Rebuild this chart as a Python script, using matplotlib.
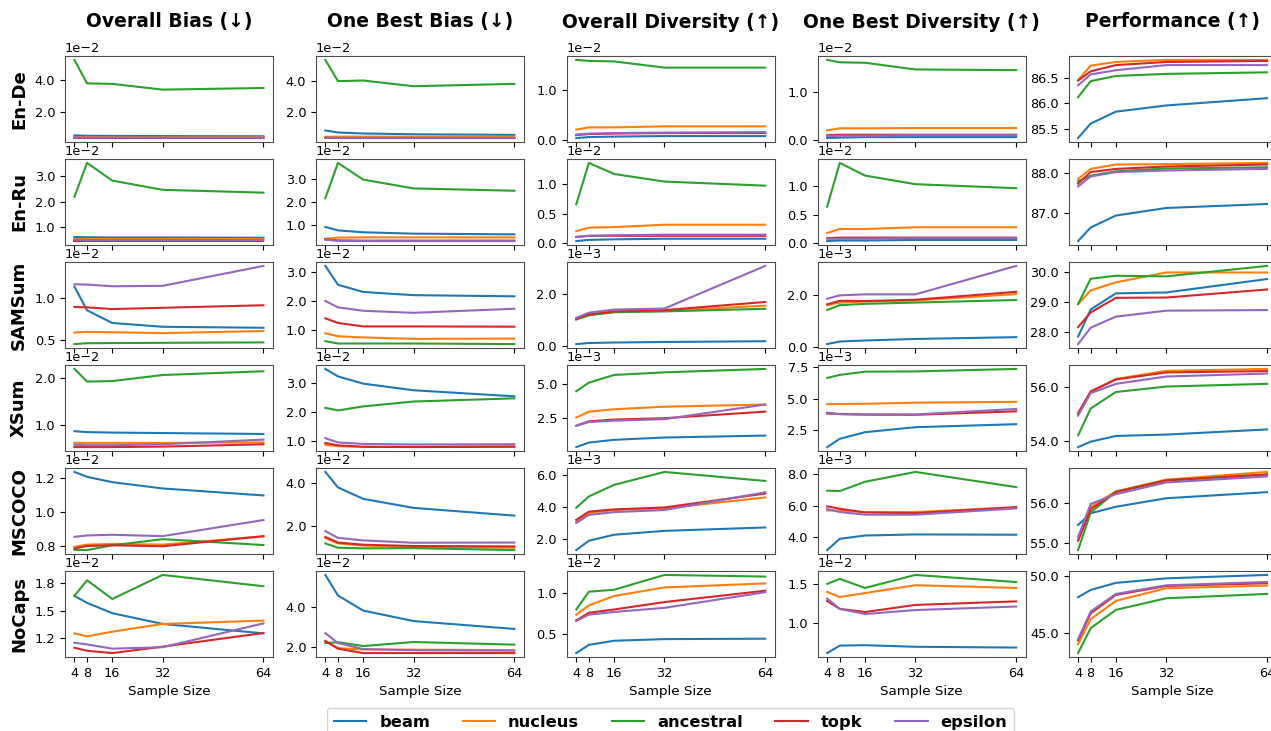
import numpy as np
import matplotlib
matplotlib.use("Agg")
import matplotlib.pyplot as plt
from matplotlib.ticker import ScalarFormatter

SAMPLE_SIZES = [4, 8, 16, 32, 64]
METHODS = ["beam", "nucleus", "ancestral", "topk", "epsilon"]
DATASETS = ["En-De", "En-Ru", "SAMSum", "XSum", "MSCOCO", "NoCaps"]
METRICS = ["Overall Bias (↓)", "One Best Bias (↓)", "Overall Diversity (↑)",
           "One Best Diversity (↑)", "Performance (↑)"]

# each array: one row per method (beam, nucleus, ancestral, topk, epsilon)
ENDE_OVERALL_BIAS = np.array([
    [0.60, 0.58, 0.57, 0.56, 0.55],
    [0.50, 0.50, 0.49, 0.49, 0.49],
    [5.20, 3.77, 3.74, 3.39, 3.49],
    [0.45, 0.44, 0.44, 0.44, 0.44],
    [0.48, 0.47, 0.47, 0.46, 0.46]]) * 1e-2
ENDE_ONE_BEST_BIAS = np.array([
    [0.85, 0.72, 0.66, 0.61, 0.57],
    [0.45, 0.46, 0.46, 0.46, 0.46],
    [5.30, 3.96, 4.00, 3.64, 3.79],
    [0.38, 0.37, 0.37, 0.37, 0.37],
    [0.40, 0.38, 0.38, 0.38, 0.38]]) * 1e-2
ENDE_OVERALL_DIV = np.array([
    [0.03, 0.05, 0.06, 0.07, 0.07],
    [0.20, 0.245, 0.245, 0.265, 0.265],
    [1.60, 1.58, 1.57, 1.445, 1.445],
    [0.09, 0.11, 0.12, 0.13, 0.13],
    [0.10, 0.12, 0.13, 0.14, 0.15]]) * 1e-2
ENDE_ONE_BEST_DIV = np.array([
    [0.03, 0.04, 0.05, 0.05, 0.05],
    [0.19, 0.235, 0.235, 0.24, 0.24],
    [1.67, 1.62, 1.61, 1.47, 1.455],
    [0.09, 0.10, 0.10, 0.10, 0.10],
    [0.07, 0.08, 0.08, 0.09, 0.09]]) * 1e-2
ENDE_PERF = np.array([
    [85.33, 85.61, 85.84, 85.96, 86.10],
    [86.45, 86.73, 86.80, 86.84, 86.84],
    [86.12, 86.43, 86.53, 86.57, 86.60],
    [86.44, 86.62, 86.74, 86.80, 86.82],
    [86.35, 86.56, 86.64, 86.74, 86.74]])

ENRU_OVERALL_BIAS = np.array([
    [0.63, 0.62, 0.61, 0.61, 0.60],
    [0.55, 0.55, 0.55, 0.55, 0.55],
    [2.20, 3.52, 2.83, 2.47, 2.36],
    [0.47, 0.47, 0.47, 0.47, 0.47],
    [0.52, 0.51, 0.51, 0.51, 0.51]]) * 1e-2
ENRU_ONE_BEST_BIAS = np.array([
    [0.93, 0.78, 0.70, 0.64, 0.61],
    [0.42, 0.47, 0.48, 0.48, 0.48],
    [2.17, 3.69, 2.97, 2.59, 2.49],
    [0.40, 0.35, 0.34, 0.34, 0.34],
    [0.38, 0.33, 0.32, 0.32, 0.32]]) * 1e-2
ENRU_OVERALL_DIV = np.array([
    [0.03, 0.05, 0.06, 0.07, 0.07],
    [0.20, 0.26, 0.27, 0.31, 0.31],
    [0.66, 1.37, 1.18, 1.05, 0.98],
    [0.10, 0.12, 0.12, 0.12, 0.12],
    [0.10, 0.12, 0.13, 0.14, 0.14]]) * 1e-2
ENRU_ONE_BEST_DIV = np.array([
    [0.04, 0.05, 0.05, 0.06, 0.06],
    [0.18, 0.25, 0.25, 0.28, 0.28],
    [0.64, 1.40, 1.18, 1.03, 0.96],
    [0.09, 0.10, 0.10, 0.10, 0.10],
    [0.08, 0.08, 0.08, 0.09, 0.09]]) * 1e-2
ENRU_PERF = np.array([
    [86.29, 86.63, 86.93, 87.12, 87.22],
    [87.85, 88.10, 88.21, 88.22, 88.25],
    [87.79, 87.93, 88.04, 88.11, 88.14],
    [87.73, 88.02, 88.10, 88.16, 88.21],
    [87.66, 87.91, 88.02, 88.06, 88.10]])

SAMSUM_OVERALL_BIAS = np.array([
    [1.13, 0.85, 0.70, 0.655, 0.643],
    [0.587, 0.595, 0.59, 0.58, 0.605],
    [0.45, 0.46, 0.462, 0.465, 0.47],
    [0.89, 0.885, 0.865, 0.88, 0.91],
    [1.158, 1.155, 1.135, 1.14, 1.376]]) * 1e-2
SAMSUM_ONE_BEST_BIAS = np.array([
    [3.22, 2.57, 2.32, 2.21, 2.17],
    [0.89, 0.79, 0.75, 0.70, 0.71],
    [0.62, 0.54, 0.54, 0.54, 0.52],
    [1.41, 1.25, 1.13, 1.13, 1.12],
    [2.01, 1.79, 1.67, 1.60, 1.74]]) * 1e-2
SAMSUM_OVERALL_DIV = np.array([
    [0.08, 0.12, 0.14, 0.16, 0.19],
    [1.03, 1.20, 1.30, 1.35, 1.55],
    [1.02, 1.18, 1.30, 1.33, 1.43],
    [1.05, 1.22, 1.33, 1.38, 1.69],
    [1.08, 1.28, 1.40, 1.44, 3.07]]) * 1e-3
SAMSUM_ONE_BEST_DIV = np.array([
    [0.10, 0.20, 0.24, 0.30, 0.37],
    [1.62, 1.72, 1.76, 1.80, 2.05],
    [1.43, 1.62, 1.67, 1.72, 1.82],
    [1.65, 1.79, 1.78, 1.83, 2.14],
    [1.87, 2.00, 2.04, 2.04, 3.15]]) * 1e-3
SAMSUM_PERF = np.array([
    [27.85, 28.76, 29.30, 29.33, 29.78],
    [28.94, 29.40, 29.67, 30.00, 30.00],
    [28.94, 29.79, 29.89, 29.87, 30.22],
    [28.17, 28.66, 29.15, 29.16, 29.43],
    [27.60, 28.15, 28.52, 28.72, 28.74]])

XSUM_OVERALL_BIAS = np.array([
    [0.87, 0.85, 0.84, 0.83, 0.81],
    [0.62, 0.62, 0.62, 0.62, 0.63],
    [2.20, 1.93, 1.94, 2.07, 2.15],
    [0.53, 0.53, 0.53, 0.54, 0.59],
    [0.58, 0.57, 0.57, 0.59, 0.69]]) * 1e-2
XSUM_ONE_BEST_BIAS = np.array([
    [3.50, 3.24, 2.99, 2.76, 2.55],
    [0.87, 0.82, 0.80, 0.80, 0.82],
    [2.15, 2.06, 2.20, 2.37, 2.48],
    [0.93, 0.85, 0.80, 0.79, 0.80],
    [1.10, 0.95, 0.90, 0.88, 0.89]]) * 1e-2
XSUM_OVERALL_DIV = np.array([
    [0.39, 0.72, 0.92, 1.09, 1.23],
    [2.55, 2.98, 3.15, 3.34, 3.50],
    [4.47, 5.10, 5.66, 5.85, 6.10],
    [1.95, 2.27, 2.40, 2.50, 2.98],
    [1.95, 2.22, 2.32, 2.43, 3.50]]) * 1e-3
XSUM_ONE_BEST_DIV = np.array([
    [1.12, 1.78, 2.31, 2.71, 2.95],
    [4.55, 4.57, 4.58, 4.67, 4.74],
    [6.65, 6.89, 7.15, 7.17, 7.37],
    [3.80, 3.77, 3.72, 3.70, 3.98],
    [3.88, 3.75, 3.72, 3.73, 4.17]]) * 1e-3
XSUM_PERF = np.array([
    [53.79, 53.99, 54.20, 54.25, 54.44],
    [55.00, 55.82, 56.30, 56.60, 56.67],
    [54.22, 55.21, 55.82, 56.02, 56.12],
    [55.04, 55.84, 56.28, 56.54, 56.59],
    [54.95, 55.78, 56.12, 56.39, 56.50]])

MSCOCO_OVERALL_BIAS = np.array([
    [1.292, 1.256, 1.217, 1.171, 1.12],
    [0.744, 0.76, 0.765, 0.76, 0.82],
    [0.722, 0.72, 0.755, 0.80, 0.757],
    [0.732, 0.75, 0.755, 0.748, 0.822],
    [0.817, 0.827, 0.832, 0.822, 0.94]]) * 1e-2
MSCOCO_ONE_BEST_BIAS = np.array([
    [4.52, 3.80, 3.27, 2.85, 2.49],
    [1.45, 1.20, 1.10, 1.03, 1.00],
    [1.20, 1.00, 0.97, 0.98, 0.89],
    [1.50, 1.24, 1.14, 1.08, 1.06],
    [1.77, 1.46, 1.34, 1.23, 1.24]]) * 1e-2
MSCOCO_OVERALL_DIV = np.array([
    [1.32, 1.90, 2.27, 2.51, 2.72],
    [3.05, 3.62, 3.80, 3.90, 4.58],
    [3.94, 4.64, 5.36, 6.16, 5.60],
    [3.19, 3.70, 3.84, 3.96, 4.82],
    [3.00, 3.50, 3.67, 3.80, 4.90]]) * 1e-3
MSCOCO_ONE_BEST_DIV = np.array([
    [3.17, 3.89, 4.10, 4.17, 4.15],
    [5.70, 5.70, 5.60, 5.60, 5.90],
    [6.96, 6.94, 7.53, 8.16, 7.19],
    [5.96, 5.81, 5.57, 5.53, 5.91],
    [5.79, 5.60, 5.43, 5.43, 5.83]]) * 1e-3
MSCOCO_PERF = np.array([
    [55.45, 55.74, 55.90, 56.11, 56.26],
    [55.08, 55.90, 56.28, 56.57, 56.76],
    [54.83, 55.76, 56.27, 56.55, 56.69],
    [55.06, 55.84, 56.26, 56.55, 56.70],
    [55.15, 55.97, 56.21, 56.50, 56.65]])

NOCAPS_OVERALL_BIAS = np.array([
    [1.633, 1.57, 1.477, 1.38, 1.295],
    [1.295, 1.268, 1.31, 1.38, 1.41],
    [1.633, 1.774, 1.605, 1.822, 1.72],
    [1.165, 1.138, 1.117, 1.175, 1.298],
    [1.21, 1.195, 1.157, 1.17, 1.385]]) * 1e-2
NOCAPS_ONE_BEST_BIAS = np.array([
    [5.58, 4.56, 3.81, 3.29, 2.90],
    [2.30, 1.95, 1.88, 1.87, 1.85],
    [2.20, 2.24, 2.05, 2.25, 2.12],
    [2.30, 1.92, 1.70, 1.70, 1.70],
    [2.69, 2.20, 1.90, 1.84, 1.82]]) * 1e-2
NOCAPS_OVERALL_DIV = np.array([
    [0.27, 0.37, 0.42, 0.44, 0.445],
    [0.737, 0.85, 0.964, 1.068, 1.117],
    [0.80, 1.016, 1.04, 1.22, 1.20],
    [0.668, 0.76, 0.80, 0.89, 1.028],
    [0.66, 0.737, 0.77, 0.82, 1.01]]) * 1e-2
NOCAPS_ONE_BEST_DIV = np.array([
    [0.62, 0.715, 0.72, 0.70, 0.69],
    [1.395, 1.33, 1.38, 1.48, 1.445],
    [1.496, 1.56, 1.445, 1.61, 1.52],
    [1.28, 1.18, 1.14, 1.23, 1.275],
    [1.31, 1.18, 1.115, 1.165, 1.21]]) * 1e-2
NOCAPS_PERF = np.array([
    [48.16, 48.80, 49.42, 49.82, 50.12],
    [44.04, 46.23, 47.84, 48.95, 49.18],
    [43.25, 45.44, 47.05, 48.07, 48.45],
    [44.36, 46.75, 48.36, 49.15, 49.39],
    [44.47, 46.90, 48.45, 49.21, 49.50]])

GRID = [
    [ENDE_OVERALL_BIAS, ENDE_ONE_BEST_BIAS, ENDE_OVERALL_DIV, ENDE_ONE_BEST_DIV, ENDE_PERF],
    [ENRU_OVERALL_BIAS, ENRU_ONE_BEST_BIAS, ENRU_OVERALL_DIV, ENRU_ONE_BEST_DIV, ENRU_PERF],
    [SAMSUM_OVERALL_BIAS, SAMSUM_ONE_BEST_BIAS, SAMSUM_OVERALL_DIV, SAMSUM_ONE_BEST_DIV, SAMSUM_PERF],
    [XSUM_OVERALL_BIAS, XSUM_ONE_BEST_BIAS, XSUM_OVERALL_DIV, XSUM_ONE_BEST_DIV, XSUM_PERF],
    [MSCOCO_OVERALL_BIAS, MSCOCO_ONE_BEST_BIAS, MSCOCO_OVERALL_DIV, MSCOCO_ONE_BEST_DIV, MSCOCO_PERF],
    [NOCAPS_OVERALL_BIAS, NOCAPS_ONE_BEST_BIAS, NOCAPS_OVERALL_DIV, NOCAPS_ONE_BEST_DIV, NOCAPS_PERF],
]


class OneDecimal(ScalarFormatter):
    """ScalarFormatter that always prints one decimal."""
    def _set_format(self):
        self.format = "%1.1f"


plt.rcParams["axes.edgecolor"] = "0.3"
plt.rcParams["xtick.labelsize"] = 9.3
plt.rcParams["ytick.labelsize"] = 9.3

W, H = 1271, 731
fig = plt.figure(figsize=(W / 100, H / 100), dpi=100)
axes = fig.subplots(6, 5, sharex=True, gridspec_kw=dict(
    left=65 / W, right=1276.5 / W, top=1 - 56 / H, bottom=1 - 657 / H,
    wspace=0.207, hspace=0.198))

for i, row in enumerate(GRID):
    for j, vals in enumerate(row):
        ax = axes[i, j]
        for k, m in enumerate(METHODS):
            ax.plot(SAMPLE_SIZES, vals[k], color=f"C{k}", lw=1.5, label=m)
        fmt = OneDecimal()
        if j < 4:
            fmt.set_powerlimits((0, 0))
        ax.yaxis.set_major_formatter(fmt)
        ax.set_xticks(SAMPLE_SIZES)
        if i == len(GRID) - 1:
            ax.set_xlabel("Sample Size", fontsize=9.7)

for j, title in enumerate(METRICS):
    pos = axes[0, j].get_position()
    fig.text((pos.x0 + pos.x1) / 2, 1 - 22 / H, title, ha="center", va="center",
             fontsize=13.5, fontweight="bold")
for i, name in enumerate(DATASETS):
    pos = axes[i, 0].get_position()
    fig.text(19 / W, (pos.y0 + pos.y1) / 2, name, ha="center", va="center",
             rotation=90, fontsize=13, fontweight="bold")

handles, labels = axes[0, 0].get_legend_handles_labels()
fig.legend(handles, labels, loc="upper center", ncol=5,
           bbox_to_anchor=(670.5 / W, 1 - 700 / H),
           prop={"weight": "bold", "size": 11.7})

fig.savefig("out.png", dpi=100)
